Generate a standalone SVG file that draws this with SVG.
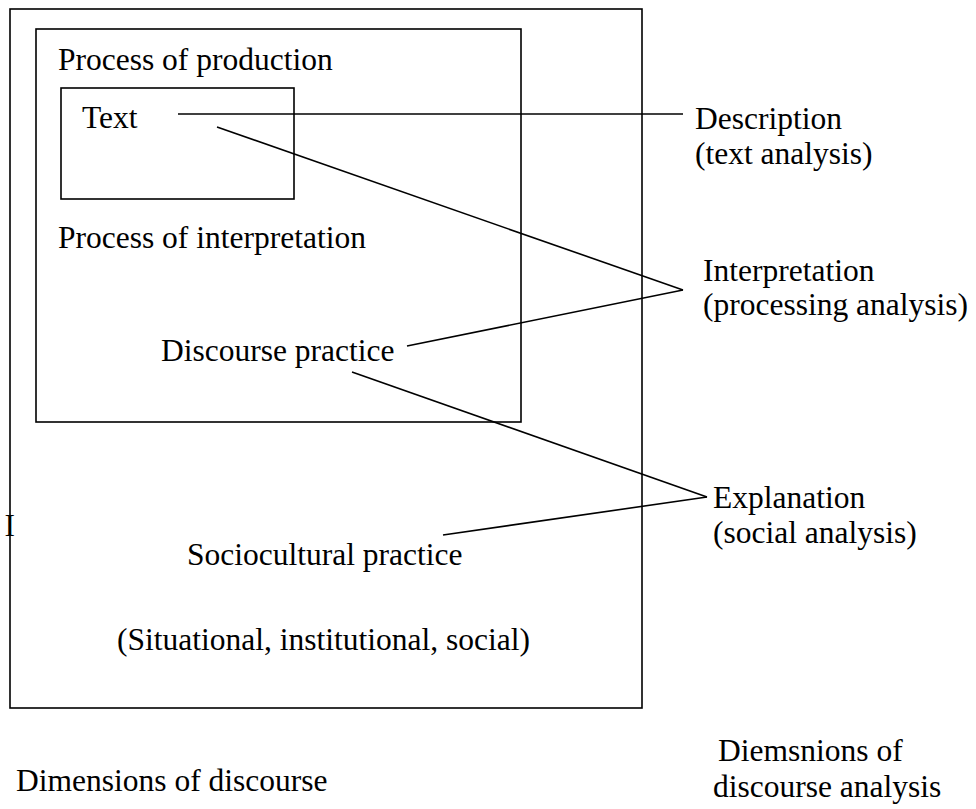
<svg xmlns="http://www.w3.org/2000/svg" width="976" height="809" viewBox="0 0 976 809">
<style>
  .box{fill:none;stroke:#000;stroke-width:1.6}
  .ln{stroke:#000;stroke-width:1.6;fill:none}
  text{font-family:"Liberation Serif","Times New Roman",serif;font-size:31.5px;fill:#000}
</style>
<rect width="976" height="809" fill="#fff"/>
<g id="sociocultural">
  <rect class="box" x="10" y="9" width="632" height="699"/>
  <text x="187" y="565">Sociocultural practice</text>
  <text x="117" y="650">(Situational, institutional, social)</text>
  <text x="4.5" y="536">I</text>
</g>
<g id="discourse-practice">
  <rect class="box" x="36" y="29" width="485" height="393"/>
  <text x="58" y="70">Process of production</text>
  <text x="58" y="248">Process of interpretation</text>
  <text x="161" y="361">Discourse practice</text>
</g>
<g id="text-node">
  <rect class="box" x="61" y="88" width="233" height="111"/>
  <text x="82" y="128">Text</text>
</g>
<g id="description">
  <text x="695" y="129">Description</text>
  <text x="695" y="164">(text analysis)</text>
</g>
<g id="interpretation">
  <text x="703" y="281">Interpretation</text>
  <text x="703" y="315">(processing analysis)</text>
</g>
<g id="explanation">
  <text x="713" y="508">Explanation</text>
  <text x="713" y="543">(social analysis)</text>
</g>
<g id="caption-left">
  <text x="16" y="791">Dimensions of discourse</text>
</g>
<g id="caption-right">
  <text x="718" y="761">Diemsnions of</text>
  <text x="713" y="797">discourse analysis</text>
</g>
<g id="connectors">
  <line class="ln" x1="178" y1="114" x2="683" y2="114"/>
  <line class="ln" x1="217" y1="127" x2="683" y2="290"/>
  <line class="ln" x1="407" y1="346" x2="683" y2="290"/>
  <line class="ln" x1="352" y1="372" x2="707" y2="497"/>
  <line class="ln" x1="443" y1="535" x2="707" y2="497"/>
</g>
</svg>
